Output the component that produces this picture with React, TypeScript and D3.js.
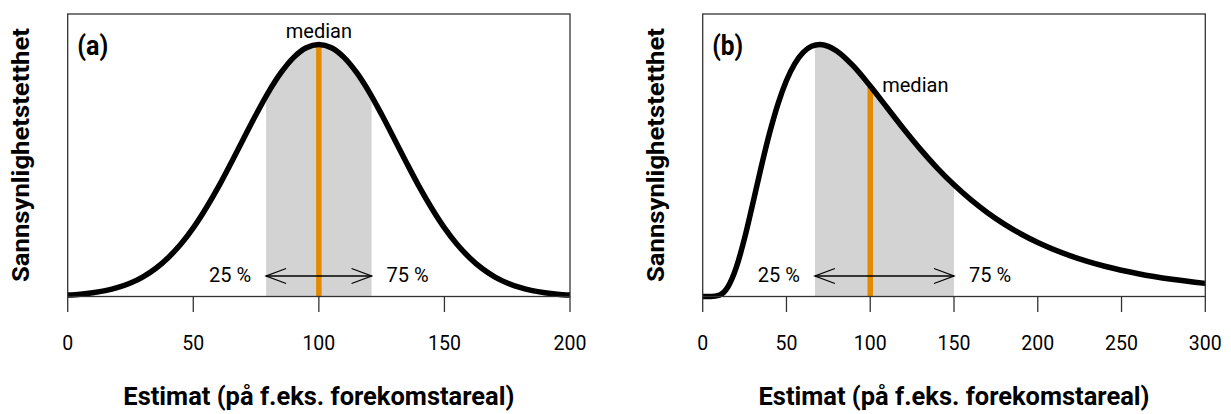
import React from 'react';
import * as d3 from 'd3';

// panel (a): symmetric density, relative to its peak
const normX = [0, 5, 10, 15, 20, 25, 30, 35, 40, 45, 50, 55, 60, 65, 70, 75, 80, 85, 90, 95, 100,
  105, 110, 115, 120, 125, 130, 135, 140, 145, 150, 155, 160, 165, 170, 175, 180, 185, 190, 195, 200];
const normY = [0.0055, 0.0091, 0.0148, 0.0233, 0.036, 0.0536, 0.078, 0.111, 0.154, 0.207, 0.272,
  0.349, 0.435, 0.529, 0.626, 0.722, 0.812, 0.889, 0.949, 0.987, 1.0,
  0.987, 0.949, 0.889, 0.812, 0.722, 0.626, 0.529, 0.435, 0.349, 0.272,
  0.207, 0.154, 0.111, 0.078, 0.0536, 0.036, 0.0233, 0.0148, 0.0091, 0.0055];

// panel (b): right-skewed density, relative to its peak
const skewX = [0, 5, 10, 15, 20, 25, 30, 35, 40, 45, 50, 55, 60, 65, 70, 75, 80, 90, 100,
  110, 120, 130, 140, 150, 160, 170, 180, 190, 200, 220, 240, 260, 280, 300];
const skewY = [0, 0.0001, 0.0053, 0.0375, 0.1144, 0.2316, 0.3719, 0.5165, 0.6507, 0.7657, 0.8572,
  0.9244, 0.9689, 0.993, 1.0, 0.9927, 0.9744, 0.9139, 0.8353, 0.7498, 0.6647, 0.5839, 0.5098,
  0.4432, 0.3841, 0.3323, 0.2872, 0.2481, 0.2143, 0.1601, 0.12, 0.0904, 0.0684, 0.0521];

const ticksA = [0, 50, 100, 150, 200];
const ticksB = [0, 50, 100, 150, 200, 250, 300];

const quartilesA = [79, 121];
const quartilesB = [67, 150];
const medianA = 100;
const medianB = 100;

const yTitle = 'Sannsynlighetstetthet';
const xTitle = 'Estimat (på f.eks. forekomstareal)';

const ORANGE = '#E38A00';
const GRAY = '#D3D3D3';
const FRAME = '#333';

interface PanelProps {
  id: string;
  label: string;
  left: number;
  right: number;
  xs: number[];
  ys: number[];
  ticks: number[];
  quartiles: number[];
  median: number;
  medianLabelSide: 'top' | 'right';
}

const Panel = ({ id, label, left, right, xs, ys, ticks, quartiles, median, medianLabelSide }: PanelProps) => {
  const top = 14;
  const bottom = 296.5;
  const x = d3.scaleLinear().domain([ticks[0], ticks[ticks.length - 1]]).range([left, right]);
  const y = d3.scaleLinear().domain([0, 1.121]).range([bottom, top]);
  const pts = xs.map((v, i) => [v, ys[i]] as [number, number]);

  const line = d3.line<[number, number]>()
    .x(d => x(d[0]))
    .y(d => y(d[1]))
    .curve(d3.curveMonotoneX);
  const area = d3.area<[number, number]>()
    .x(d => x(d[0]))
    .y0(bottom)
    .y1(d => y(d[1]))
    .curve(d3.curveMonotoneX);

  const medVal = ys[xs.indexOf(median)];
  const q1 = x(quartiles[0]);
  const q3 = x(quartiles[1]);
  const arrowY = 276;
  const head = 20;
  const headH = 7.5;

  return (
    <g>
      <defs>
        <clipPath id={`clip-${id}`}>
          <rect x={q1} y={top} width={q3 - q1} height={bottom - top} />
        </clipPath>
      </defs>
      <path d={area(pts) || ''} fill={GRAY} clipPath={`url(#clip-${id})`} />
      <line x1={x(median)} x2={x(median)} y1={bottom} y2={y(medVal)} stroke={ORANGE} strokeWidth={5.5} />
      {/* quartile arrow */}
      <g stroke="#000" strokeWidth={1.3} fill="none">
        <line x1={q1} x2={q3} y1={arrowY} y2={arrowY} />
        <polyline points={`${q1 + head},${arrowY - headH} ${q1},${arrowY} ${q1 + head},${arrowY + headH}`} />
        <polyline points={`${q3 - head},${arrowY - headH} ${q3},${arrowY} ${q3 - head},${arrowY + headH}`} />
      </g>
      <path d={line(pts) || ''} fill="none" stroke="#000" strokeWidth={5.5} strokeLinejoin="round" />
      <rect x={left} y={top} width={right - left} height={bottom - top} fill="none" stroke={FRAME} strokeWidth={1.3} />
      {ticks.map(t => (
        <g key={t}>
          <line x1={x(t)} x2={x(t)} y1={bottom} y2={312} stroke={FRAME} strokeWidth={1.3} />
          <text x={x(t)} y={350} textAnchor="middle" fontSize={19.5}>{t}</text>
        </g>
      ))}
      <text x={q1 - 15} y={282} textAnchor="end" fontSize={20}>25 %</text>
      <text x={q3 + 15} y={282} textAnchor="start" fontSize={20}>75 %</text>
      {medianLabelSide === 'top' ? (
        <text x={x(median)} y={37.5} textAnchor="middle" fontSize={20}>median</text>
      ) : (
        <text x={x(median) + 12} y={92} textAnchor="start" fontSize={20}>median</text>
      )}
      <text x={left + 9.5} y={55} fontSize={28} fontWeight="bold" textLength={31} lengthAdjust="spacingAndGlyphs">{label}</text>
      <text
        transform={`translate(${left - 38.5},155) rotate(-90)`}
        textAnchor="middle" fontSize={24} fontWeight="bold"
        textLength={254} lengthAdjust="spacingAndGlyphs"
      >{yTitle}</text>
      <text x={(left + right) / 2} y={405} textAnchor="middle" fontSize={26.5} fontWeight="bold"
        textLength={391} lengthAdjust="spacingAndGlyphs">{xTitle}</text>
    </g>
  );
};

export default function App() {
  return (
    <svg width={1231} height={414} style={{ position: 'absolute', left: 0, top: 0, background: '#fff' }}
      fontFamily="Roboto, 'Noto Sans', sans-serif">
      <Panel id="a" label="(a)" left={67.7} right={570} xs={normX} ys={normY} ticks={ticksA}
        quartiles={quartilesA} median={medianA} medianLabelSide="top" />
      <Panel id="b" label="(b)" left={702.7} right={1205.3} xs={skewX} ys={skewY} ticks={ticksB}
        quartiles={quartilesB} median={medianB} medianLabelSide="right" />
    </svg>
  );
}
